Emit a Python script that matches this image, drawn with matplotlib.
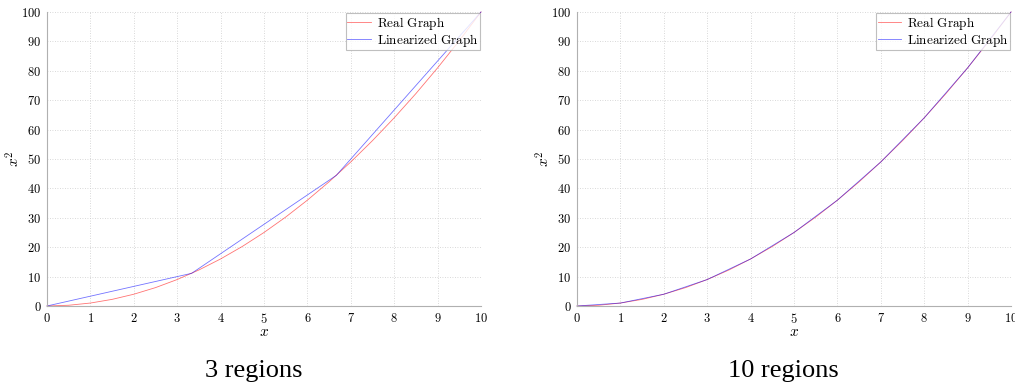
import matplotlib
matplotlib.use("Agg")
import matplotlib.pyplot as plt
from matplotlib.ticker import FuncFormatter

plt.rcParams['mathtext.fontset'] = 'cm'

# Real graph samples (x, x^2)
real_x = [0, 0.5, 1, 1.5, 2, 2.5, 3, 3.5, 4, 4.5, 5, 5.5, 6, 6.5, 7, 7.5, 8, 8.5, 9, 9.5, 10]
real_y = [0, 0.25, 1, 2.25, 4, 6.25, 9, 12.25, 16, 20.25, 25, 30.25, 36, 42.25, 49, 56.25, 64, 72.25, 81, 90.25, 100]

# Linearized, 3 regions
lin3_x = [0, 3.333, 6.667, 10]
lin3_y = [0, 11.11, 44.44, 100]

# Linearized, 10 regions
lin10_x = [0, 1, 2, 3, 4, 5, 6, 7, 8, 9, 10]
lin10_y = [0, 1, 4, 9, 16, 25, 36, 49, 64, 81, 100]

captions = ["3 regions", "10 regions"]
caption_x = [253.5 / 1015, 783.5 / 1015]
xticks = list(range(0, 11))
yticks = list(range(0, 101, 10))

fig = plt.figure(figsize=(10.15, 3.89), dpi=100)
axes = [fig.add_axes([0.0463, 0.2134, 0.4276, 0.7558]),
        fig.add_axes([0.5685, 0.2134, 0.4276, 0.7558])]

fmt = FuncFormatter(lambda v, p: r'$%d$' % v)
for ax, (lx, ly), cap, cx in zip(axes, [(lin3_x, lin3_y), (lin10_x, lin10_y)], captions, caption_x):
    ax.plot(real_x, real_y, color='red', alpha=0.55, lw=0.6, label=r'$\mathrm{Real\ Graph}$', clip_on=False)
    ax.plot(lx, ly, color='blue', alpha=0.55, lw=0.6, label=r'$\mathrm{Linearized\ Graph}$', clip_on=False)
    ax.set_xlim(0, 10)
    ax.set_ylim(0, 100)
    ax.set_xticks(xticks)
    ax.set_yticks(yticks)
    ax.xaxis.set_major_formatter(fmt)
    ax.yaxis.set_major_formatter(fmt)
    ax.tick_params(length=0, labelsize=9, pad=4)
    ax.grid(True, color='#cccccc', ls=(0, (1, 2)), lw=0.6)
    for s in ['top', 'right']:
        ax.spines[s].set_visible(False)
    for s in ['left', 'bottom']:
        ax.spines[s].set_color('#b0b0b0')
        ax.spines[s].set_linewidth(0.8)
    ax.set_xlabel(r'$x$', fontsize=11, labelpad=-1)
    ax.set_ylabel(r'$x^2$', fontsize=11, labelpad=-1)
    leg = ax.legend(loc='upper right', fontsize=9.5, frameon=True, fancybox=False,
                    borderpad=0.1, labelspacing=0.0, handlelength=1.8, handletextpad=0.4,
                    borderaxespad=0.1)
    leg.get_frame().set_edgecolor('#b0b0b0')
    leg.get_frame().set_linewidth(0.8)
    fig.text(cx, 0.045, cap, ha='center', va='center',
             fontsize=19, family='Liberation Serif')

fig.savefig('out.png', dpi=100)
